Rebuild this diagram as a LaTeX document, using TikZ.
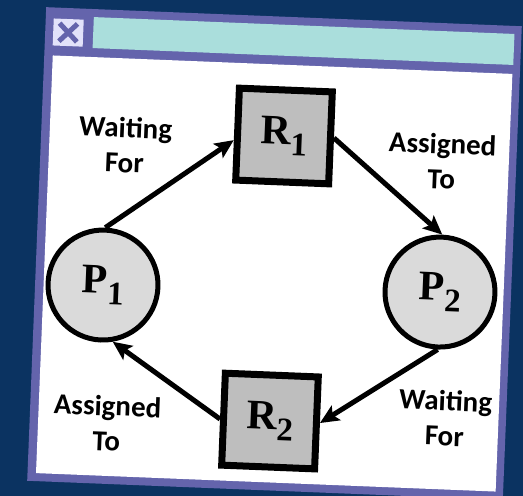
\documentclass[tikz,border=0pt]{standalone}
\usepackage{fontspec}
\setmainfont{Carlito}
\newfontfamily\myserifface{Liberation Serif}
\usetikzlibrary{arrows.meta}
\definecolor{bg}{RGB}{11,51,97}
\definecolor{framec}{RGB}{100,100,172}
\definecolor{titlec}{RGB}{170,222,220}
\definecolor{xboxc}{RGB}{226,226,250}
\definecolor{rfill}{RGB}{190,190,190}
\definecolor{pfill}{RGB}{218,218,218}
\newcommand\subl[2]{{\myserifface\bfseries\fontsize{42}{42}\selectfont #1\raisebox{-11pt}{\fontsize{33}{33}\selectfont #2}}}
\begin{document}
\begin{tikzpicture}[x=1pt,y=-1pt,
 res/.style={draw=black,line width=7pt,fill=rfill,minimum width=93pt,minimum height=92pt,inner sep=0pt,transform shape},
 proc/.style={circle,draw=black,line width=5pt,fill=pfill,minimum size=110pt,inner sep=0pt,transform shape},
 lbl/.style={font=\fontsize{29}{35}\selectfont\bfseries,align=center,transform shape},
 arr/.style={line width=5pt,-{Stealth[length=19pt,width=17pt,inset=4pt]}}]
\fill[bg] (0,0) rectangle (523,496);
\useasboundingbox (0,0) rectangle (523,496);
\begin{scope}[shift={(274.5,253.5)},rotate=-2.3]
\fill[framec] (-238,-237) rectangle (238,237);
\fill[xboxc] (-230,-226) rectangle (-200,-199);
\draw[framec,line width=5pt] (-224,-221.5) -- (-206,-203.5) (-224,-203.5) -- (-206,-221.5);
\fill[titlec] (-190,-229) rectangle (231,-198);
\fill[white] (-229.5,-189) rectangle (230.5,229);
\node[res] (R1) at (4.8,-117.8) {\subl{R}{1}};
\node[res] (R2) at (2.2,167.6) {\subl{R}{2}};
\node[proc] (P1) at (-170.1,38.4) {\subl{P}{1}};
\node[proc] (P2) at (166.9,31.9) {\subl{P}{2}};
\node[lbl] (wf1) at (-153.7,-102.4) {Waiting\\For};
\node[lbl] (at1) at (163.7,-99.1) {Assigned\\To};
\node[lbl] (wf2) at (177,157.6) {Waiting\\For};
\node[lbl] (at2) at (-160.6,176.1) {Assigned\\To};
\draw[arr] (P1.north) -- (R1.187);
\draw[arr] (R1.east) -- (P2.north);
\draw[arr] (P2.south) -- (R2.east);
\draw[arr] (R2.west) -- (P1.-78);
\end{scope}
\end{tikzpicture}
\end{document}
